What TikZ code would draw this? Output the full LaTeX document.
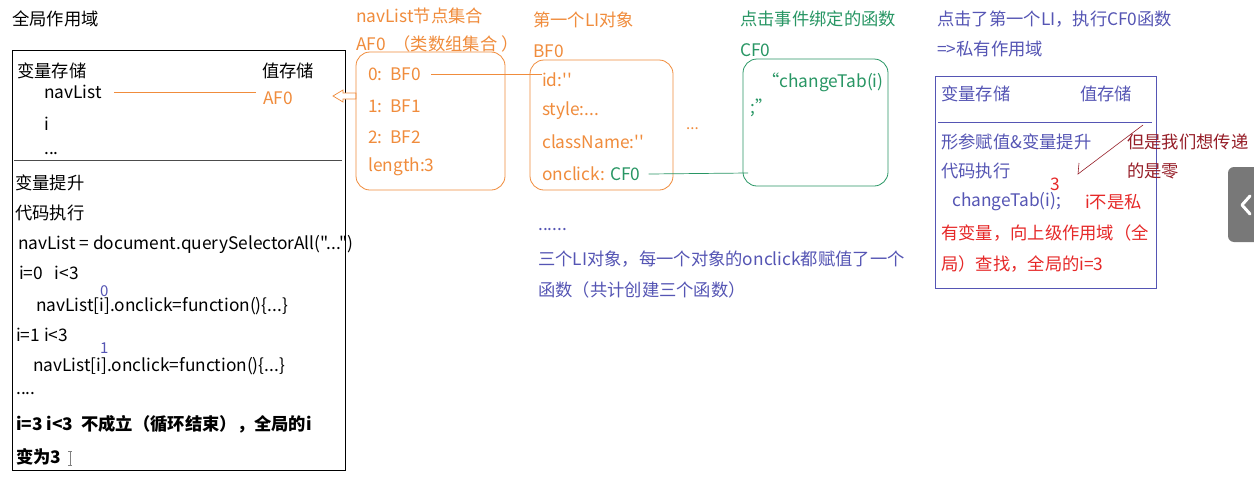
\documentclass[tikz,border=0pt]{standalone}
\usepackage{fontspec}
\setmainfont{Noto Sans CJK SC}
\newfontfamily\mf{Noto Sans CJK SC}
\usetikzlibrary{arrows.meta}
\definecolor{org}{RGB}{240,140,60}
\definecolor{grn}{RGB}{40,150,100}
\definecolor{blu}{RGB}{85,85,180}
\definecolor{rd}{RGB}{230,40,40}
\definecolor{drd}{RGB}{150,30,40}
\definecolor{tabgray}{RGB}{120,120,120}
\begin{document}
\begin{tikzpicture}[x=1pt,y=-1pt,
  txt/.style={anchor=west,inner sep=0pt,font=\mf\fontsize{17.3}{19}\selectfont},
  btxt/.style={txt,font=\mf\fontsize{17.3}{19}\selectfont\bfseries},
  sm/.style={anchor=west,inner sep=0pt,font=\mf\fontsize{15}{17}\selectfont},
  rbox/.style={rounded corners=14pt,line width=0.8pt}]
\useasboundingbox (0,0) rectangle (1254,485);
\fill[white] (0,0) rectangle (1254,485);

% ---------- global scope ----------
\node[txt] (gtitle) at (12,19) {全局作用域};
\draw[line width=0.8pt] (12,50) rectangle (345,470);
\draw[line width=0.8pt,black!70] (14,160) -- (342,160);
\node[txt] (varst) at (17,71) {变量存储};
\node[txt] (valst) at (262,71) {值存储};
\node[txt] (navlist) at (44,92) {navList};
\node[txt,text=org] (af0) at (263,98) {AF0};
\node[txt] (ivar) at (44,124) {i};
\node[txt] (dots1) at (44,154) {...};
\node[txt] (hoist) at (15,183) {变量提升};
\node[txt] (exec) at (15,213) {代码执行};
\node[txt] (qsa) at (18,244) {navList = document.querySelectorAll("...")};
\node[txt] (i0) at (19,273) {i=0\ \ \ i<3};
\node[sm,text=blu] (zero) at (100,291) {0};
\node[txt] (on0) at (36,306) {navList[i].onclick=function()\{...\}};
\node[txt] (i1) at (16,335) {i=1 i<3};
\node[sm,text=blu] (one) at (100,348) {1};
\node[txt] (on1) at (33,366) {navList[i].onclick=function()\{...\}};
\node[txt] (dots2) at (16,394) {....};
\node[btxt] (end1) at (16,424) {i=3 i<3\ \ 不成立（循环结束），全局的i};
\node[btxt] (end2) at (16,457) {变为3};
% I-beam cursor
\draw[gray,line width=0.6pt] (68,451) -- (72,451) (70,451) -- (70,465) (68,465) -- (72,465);

\draw[org,line width=0.7pt] ([xshift=12pt]navlist.east) -- ([xshift=-7pt]af0.west |- navlist.east);

% hollow arrow
\draw[org,line width=0.7pt,fill=white] (333,96) -- (343,90) -- (343,93) -- (356,93) -- (356,99) -- (343,99) -- (343,102) -- cycle;

% ---------- AF0 box ----------
\node[txt,text=org] (aft1) at (356,16) {navList节点集合};
\node[txt,text=org] (aft2) at (356,44) {AF0\ \ （类数组集合 ）};
\draw[org,rbox] (356,52) rectangle (505,190);
\node[txt,text=org] (it0) at (368,74) {0:\ \ BF0};
\node[txt,text=org] (it1) at (368,106) {1:\ \ BF1};
\node[txt,text=org] (it2) at (368,137) {2:\ \ BF2};
\node[txt,text=org] (len) at (368,167) {length:3};

% ---------- BF0 box ----------
\node[txt,text=org] (bft1) at (533,20) {第一个LI对象};
\node[txt,text=org] (bft2) at (533,51) {BF0};
\draw[org,rbox] (530,60) rectangle (673,190);
\node[txt,text=org] (id) at (542,80) {id:''};
\node[txt,text=org] (style) at (542,111) {style:...};
\node[txt,text=org] (cls) at (542,142) {className:''};
\node[txt,text=org] (onc) at (542,174) {onclick: \textcolor{grn}{CF0}};
\node[sm,text=org] (odots) at (686,129) {...};

\draw[org,line width=0.7pt] ([xshift=10pt]it0.east) -- (it0.east -| id.west);

% ---------- CF0 box ----------
\node[txt,text=grn] (cft1) at (740,19) {点击事件绑定的函数};
\node[txt,text=grn] (cft2) at (740,50) {CF0};
\draw[grn,rbox] (743,59) rectangle (888,186);
\node[txt,text=grn] (fn1) at (762,82) {“changeTab(i)};
\node[txt,text=grn] (fn2) at (750,108) {;”};
\coordinate (cfin) at (748,173);
\draw[grn,line width=0.7pt] ([xshift=8pt]onc.east) -- (cfin);

% ---------- blue note ----------
\node[txt,text=blu] (bd) at (538,230) {......};
\node[txt,text=blu] (bn1) at (538,259) {三个LI对象，每一个对象的onclick都赋值了一个};
\node[txt,text=blu] (bn2) at (538,290) {函数（共计创建三个函数）};

% ---------- private scope ----------
\node[txt,text=blu] (pt1) at (937,19) {点击了第一个LI，执行CF0函数};
\node[txt,text=blu] (pt2) at (937,49) {=>私有作用域};
\draw[blu,line width=0.8pt] (935,76) rectangle (1156,288);
\draw[blu,line width=0.8pt] (938,122) -- (1152,122);
\node[txt,text=blu] (pvar) at (941,94) {变量存储};
\node[txt,text=blu] (pval) at (1080,94) {值存储};
\node[txt,text=blu] (phoist) at (941,142) {形参赋值\&变量提升};
\node[txt,text=blu] (pexec) at (941,171) {代码执行};
\node[txt,text=rd] (three) at (1050,184) {3};
\node[txt,text=blu] (call) at (952,202) {changeTab(i);};
\node[txt,text=rd] (r1) at (1085,202) {i不是私};
\node[txt,text=rd] (r2) at (941,233) {有变量，向上级作用域（全};
\node[txt,text=rd] (r3) at (941,264) {局）查找，全局的i=3};
\node[txt,text=drd] (w1) at (1127,142) {但是我们想传递};
\node[txt,text=drd] (w2) at (1127,171) {的是零};
\coordinate (astart) at (1143,125);
\coordinate (aend) at (1078,174);
\draw[drd,line width=0.6pt] (astart) -- (aend) -- ++(1,-11);

% ---------- side tab ----------
\fill[tabgray,rounded corners=6pt] (1228,167) rectangle (1270,242);
\draw[white,line width=3pt,line cap=round,line join=round] (1250,196) -- (1242,205) -- (1250,214);
\end{tikzpicture}
\end{document}
